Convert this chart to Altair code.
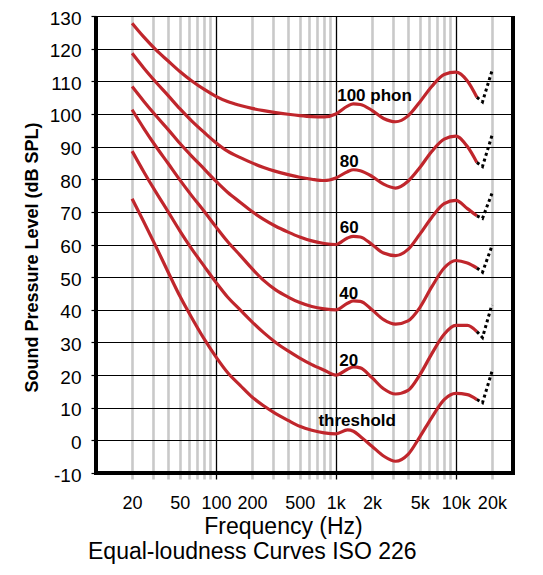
import altair as alt
import pandas as pd

FREQS = [20, 25, 31.5, 40, 50, 63, 80, 100, 125, 160, 200, 250, 315, 400, 500, 630, 800,
         1000, 1250, 1400, 1600, 2000, 2500, 3150, 4000, 5000, 6300, 8000, 10000, 12500, 15000]
PHON_100 = [127.8, 123.6, 119.7, 116.2, 113.0, 110.1, 107.5, 105.4, 103.8, 102.6, 101.7, 101.0, 100.4, 99.9, 99.5, 99.2, 99.1,
            100.0, 102.4, 103.1, 102.9, 101.1, 98.6, 97.6, 99.4, 103.6, 108.4, 112.1, 112.8, 110.1, 105.1]
PHON_80 = [118.6, 114.1, 109.8, 105.6, 101.6, 97.8, 94.3, 91.2, 88.6, 86.6, 85.0, 83.6, 82.4, 81.4, 80.6, 80.0, 79.6,
           80.4, 82.3, 82.9, 82.6, 80.9, 78.5, 77.3, 79.4, 83.5, 88.5, 92.3, 93.2, 90.0, 85.1]
PHON_60 = [108.4, 103.9, 99.5, 95.2, 91.0, 87.0, 83.1, 79.4, 76.0, 72.9, 70.1, 67.7, 65.6, 63.8, 62.3, 61.1, 60.3,
           60.0, 62.0, 62.5, 62.3, 60.0, 57.4, 56.6, 58.5, 63.1, 68.3, 72.5, 73.5, 71.0, 68.8]
PHON_40 = [101.3, 95.6, 90.1, 84.8, 79.8, 74.9, 70.1, 65.4, 60.9, 56.6, 52.6, 49.0, 46.1, 43.9, 42.2, 41.0, 40.3,
           40.0, 42.0, 42.7, 42.6, 40.0, 37.0, 35.6, 36.6, 40.6, 47.0, 52.8, 55.1, 54.3, 52.8]
PHON_20 = [88.6, 82.3, 76.1, 70.0, 64.2, 58.6, 53.3, 48.4, 43.9, 39.9, 36.3, 33.0, 30.0, 27.4, 25.2, 23.2, 21.5,
           20.0, 21.8, 22.5, 22.2, 19.2, 15.8, 14.2, 15.3, 20.0, 26.5, 32.5, 35.2, 35.2, 33.3]
THRESHOLD = [74.0, 67.0, 59.5, 51.5, 44.2, 37.5, 31.0, 25.6, 20.8, 16.8, 13.3, 10.6, 8.2, 6.1, 4.3, 3.1, 2.3,
             2.0, 3.2, 2.8, 1.2, -1.8, -4.8, -6.4, -4.3, 1.0, 7.0, 12.5, 14.4, 14.0, 12.5]
CURVES = {"100": PHON_100, "80": PHON_80, "60": PHON_60, "40": PHON_40, "20": PHON_20, "threshold": THRESHOLD}

DOT_FREQS = [15000, 16700, 20000]
DOT_100 = [105.1, 103.7, 113.1]
DOT_80 = [85.1, 83.9, 93.3]
DOT_60 = [68.8, 68.0, 75.6]
DOT_40 = [52.8, 51.5, 59.5]
DOT_20 = [33.3, 31.5, 41.5]
DOT_THRESHOLD = [12.5, 11.5, 21.0]
DOTS = {"100": DOT_100, "80": DOT_80, "60": DOT_60, "40": DOT_40, "20": DOT_20, "threshold": DOT_THRESHOLD}

LABEL_TEXT = ["100 phon", "80", "60", "40", "20", "threshold"]
LABEL_FREQ = [1026, 1079, 1079, 1066, 1066, 716]
LABEL_DB = [103.9, 83.8, 63.6, 43.2, 22.8, 4.5]

X_GRID = [20, 30, 40, 50, 60, 70, 80, 90, 100, 200, 300, 400, 500, 600, 700, 800, 900,
          1000, 2000, 3000, 4000, 5000, 6000, 7000, 8000, 9000, 10000, 20000]
X_LABELED = [20, 50, 100, 200, 500, 1000, 2000, 5000, 10000, 20000]
X_MAJOR = [100, 1000, 10000]
Y_TICKS = [-10, 0, 10, 20, 30, 40, 50, 60, 70, 80, 90, 100, 110, 120, 130]

X_TITLE = "Frequency (Hz)"
Y_TITLE = "Sound Pressure Level (dB SPL)"
SUBTITLE = "Equal-loudness Curves ISO 226"

FONT = "Liberation Sans"
RED = "#c0262c"
W, H = 417, 457

curve_rows = [{"curve": k, "freq": f, "db": v} for k, vals in CURVES.items() for f, v in zip(FREQS, vals)]
dot_rows = [{"curve": k, "freq": f, "db": v} for k, vals in DOTS.items() for f, v in zip(DOT_FREQS, vals)]
df_curves = pd.DataFrame(curve_rows)
df_dots = pd.DataFrame(dot_rows)
df_labels = pd.DataFrame({"label": LABEL_TEXT, "freq": LABEL_FREQ, "db": LABEL_DB})

major_test = " || ".join(f"datum.value == {v}" for v in X_MAJOR)
labeled = ",".join(str(v) for v in X_LABELED)
label_expr = (f"indexof([{labeled}], datum.value) >= 0 ? "
              "(datum.value >= 1000 ? (datum.value / 1000) + 'k' : '' + datum.value) : ''")

x_axis = alt.Axis(
    values=X_GRID, labelExpr=label_expr, grid=True,
    gridColor={"condition": {"test": major_test, "value": "black"}, "value": "#c9c9c9"},
    gridWidth={"condition": {"test": major_test, "value": 1.3}, "value": 2.6},
    tickColor={"condition": {"test": major_test, "value": "black"}, "value": "#c9c9c9"},
    tickWidth={"condition": {"test": major_test, "value": 1.3}, "value": 2.6},
    tickSize=6, domain=False, labelFontSize=18, labelFont=FONT, labelColor="black",
    labelBaseline="alphabetic", labelPadding=29, labelOverlap=False, labelFlush=False,
    title=X_TITLE, titleFontSize=23, titleFontWeight="normal", titleFont=FONT, titleColor="black",
    titleX=187, titleY=60, titleBaseline="alphabetic", titleAlign="center",
)
y_axis = alt.Axis(
    values=Y_TICKS, labelExpr="'' + datum.value", grid=True, gridColor="black", gridWidth=1.2,
    tickColor="black", tickSize=5, tickWidth=1.2, domain=False,
    labelFontSize=19, labelFont=FONT, labelColor="black", labelPadding=10,
    labelOverlap=False, labelFlush=False, labelOffset=2, labelSeparation=0, labelBound=False,
    title=Y_TITLE, titleFontSize=18, titleFontWeight="bold", titleFont=FONT, titleColor="black",
    titleX=-64, titleY=241, titleAngle=270, titleBaseline="middle", titleAlign="center",
)

x_enc = alt.X("freq:Q", scale=alt.Scale(type="log", domain=[10, 30000], nice=False), axis=x_axis)
y_enc = alt.Y("db:Q", scale=alt.Scale(domain=[-10, 130], nice=False, zero=False), axis=y_axis)

curves = alt.Chart(df_curves).mark_line(interpolate="monotone", color=RED, strokeWidth=3.2).encode(
    x=x_enc, y=y_enc, detail="curve:N")
dots = alt.Chart(df_dots).mark_line(color="black", strokeWidth=3, strokeDash=[3, 3], strokeCap="butt").encode(
    x=x_enc, y=y_enc, detail="curve:N")
labels = alt.Chart(df_labels).mark_text(align="left", baseline="alphabetic", fontSize=17, fontWeight="bold",
                                        font=FONT, color="black").encode(x=x_enc, y=y_enc, text="label:N")

one = pd.DataFrame({"a": [0]})
left_border = alt.Chart(one).mark_rule(color="black", strokeWidth=4).encode(
    x=alt.value(0), y=alt.value(0), y2=alt.value(H + 2))
right_border = alt.Chart(one).mark_rule(color="black", strokeWidth=4).encode(
    x=alt.value(W), y=alt.value(0), y2=alt.value(H + 2))
bottom_border = alt.Chart(one).mark_rule(color="black", strokeWidth=4).encode(
    y=alt.value(H), x=alt.value(-2), x2=alt.value(W + 2))
subtitle = alt.Chart(pd.DataFrame({"t": [SUBTITLE]})).mark_text(
    align="left", baseline="alphabetic", fontSize=23, font=FONT, color="black").encode(
    x=alt.value(-8), y=alt.value(543), text="t:N")

chart = alt.layer(curves, dots, labels, left_border, right_border, bottom_border, subtitle).properties(
    width=W, height=H,
    padding={"left": 88, "top": 8, "right": 22, "bottom": 94},
    autosize=alt.AutoSizeParams(type="none"),
    background="white",
).configure_view(stroke=None).configure_axisY(labelOverlap=False).configure_axis(labelOverlap=False)

chart.save("out.html", embed_options={"renderer": "svg", "actions": False})
